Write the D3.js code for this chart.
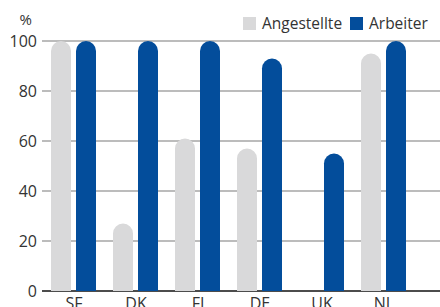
<!DOCTYPE html>
<html>
<head>
<meta charset="utf-8">
<script src="https://cdn.jsdelivr.net/npm/d3@7"></script>
<style>
  body { margin: 0; background: #fff; }
  svg { display: block; font-family: "Open Sans", sans-serif; }
</style>
</head>
<body>
<div id="chart"></div>
<script>
const categories = ["SF", "DK", "FI", "DE", "UK", "NL"];
const seriesNames = ["Angestellte", "Arbeiter"];
const angestellte = [100, 27, 61, 57, 0, 95];
const arbeiter = [100, 100, 100, 93, 55, 100];
const yTicks = [0, 20, 40, 60, 80, 100];
const colors = ["#d9d9da", "#034d9b"];

const width = 440, height = 307;
const svg = d3.select("#chart").append("svg")
    .attr("width", width)
    .attr("height", height);

const x = d3.scaleBand().domain(categories).range([43, 43 + 62 * 6]);
const xs = d3.scaleBand().domain(seriesNames).range([8, 53]).paddingInner(0.2);
const y = d3.scaleLinear().domain([0, 100]).range([291, 41]);

// gridlines
svg.append("g")
    .selectAll("line")
    .data(yTicks)
    .enter().append("line")
    .attr("x1", 42).attr("x2", width)
    .attr("y1", d => y(d)).attr("y2", d => y(d))
    .attr("stroke", d => d === 0 ? "#111" : "#7a7a7a")
    .attr("stroke-width", d => d === 0 ? 1.6 : 1.2);

// y tick labels
svg.append("g")
    .selectAll("text")
    .data(yTicks)
    .enter().append("text")
    .attr("x", 37)
    .attr("y", d => y(d))
    .attr("dy", "0.35em")
    .attr("text-anchor", "end")
    .attr("font-size", 16)
    .attr("fill", "#333")
    .text(d => d);

svg.append("text")
    .attr("x", 32).attr("y", 25)
    .attr("text-anchor", "end")
    .attr("font-size", 15)
    .attr("fill", "#333")
    .text("%");

// bars with rounded tops
function barPath(x0, w, v) {
    if (v <= 0) return "";
    const r = w / 2;
    const top = y(v), bottom = y(0);
    return `M${x0},${bottom} L${x0},${top + r} A${r},${r} 0 0 1 ${x0 + w},${top + r} L${x0 + w},${bottom} Z`;
}

const rows = categories.map((c, i) => ({ cat: c, vals: [angestellte[i], arbeiter[i]] }));

const groups = svg.append("g")
    .selectAll("g")
    .data(rows)
    .enter().append("g")
    .attr("transform", d => `translate(${x(d.cat)},0)`);

groups.selectAll("path")
    .data(d => d.vals.map((v, j) => ({ v: v, s: seriesNames[j], j: j })))
    .enter().append("path")
    .attr("d", d => barPath(xs(d.s), xs.bandwidth(), d.v))
    .attr("fill", d => colors[d.j]);

// x labels (cut by the bottom edge, as in the source)
svg.append("g")
    .selectAll("text")
    .data(categories)
    .enter().append("text")
    .attr("x", d => x(d) + x.bandwidth() / 2)
    .attr("y", 309)
    .attr("text-anchor", "middle")
    .attr("font-size", 16)
    .attr("fill", "#333")
    .text(d => d);

// legend
const legend = svg.append("g").attr("transform", "translate(243,17)");
const legendX = [0, 107];
seriesNames.forEach((s, i) => {
    legend.append("rect")
        .attr("x", legendX[i]).attr("y", 0)
        .attr("width", 13).attr("height", 13)
        .attr("fill", colors[i]);
    legend.append("text")
        .attr("x", legendX[i] + 19).attr("y", 7)
        .attr("dy", "0.35em")
        .attr("font-size", 15.5)
        .attr("fill", "#333")
        .text(s);
});
</script>
</body>
</html>
